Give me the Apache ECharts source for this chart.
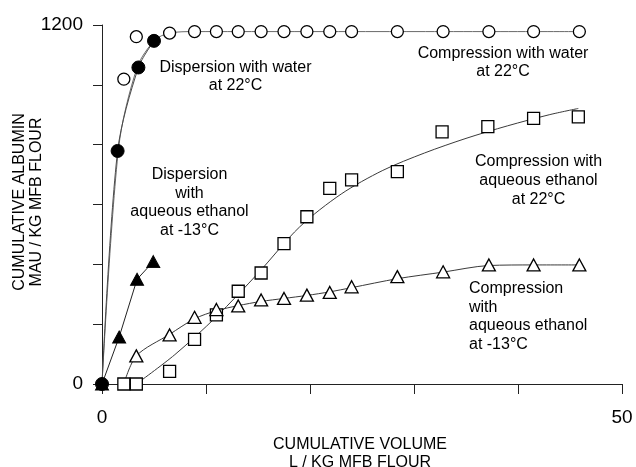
<!DOCTYPE html>
<html>
<head>
<meta charset="utf-8">
<script src="https://cdn.jsdelivr.net/npm/echarts@6/dist/echarts.min.js"></script>
<style>
  html, body { margin: 0; padding: 0; background: #fff; }
  #chart { width: 636px; height: 467px; }
</style>
</head>
<body>
<div id="chart"></div>
<script>
// Cumulative albumin (MAU / kg MFB flour) versus cumulative volume (L / kg MFB flour)

// Compression with water at 22°C (open circles)
const compWaterVol = [2.1, 3.3, 6.5, 8.9, 11.0, 13.1, 15.3, 17.5, 19.7, 21.9, 24.0, 28.4, 32.8, 37.2, 41.5, 45.9];
const compWater    = [1019, 1161, 1173, 1178, 1178, 1178, 1178, 1178, 1178, 1178, 1178, 1178, 1178, 1178, 1178, 1178];
const compWaterFitVol = [0, 1.6, 3.4, 5.1, 6.5, 8.9, 13.1, 24.0, 45.9];
const compWaterFit    = [0, 790, 1060, 1150, 1173, 1178, 1178, 1178, 1178];

// Dispersion with water at 22°C (filled circles)
const dispWaterVol = [0, 1.5, 3.5, 5.0];
const dispWater    = [0, 779, 1058, 1147];

// Dispersion with aqueous ethanol at -13°C (filled triangles)
const dispEthanolVol = [0, 1.65, 3.37, 4.93];
const dispEthanol    = [0, 157, 350, 409];

// Compression with aqueous ethanol at 22°C (open squares)
const compWarmVol = [2.1, 3.3, 6.5, 8.9, 11.0, 13.1, 15.3, 17.5, 19.7, 21.9, 24.0, 28.4, 32.7, 37.1, 41.5, 45.8];
const compWarm    = [0, 0, 42, 149, 231, 310, 371, 469, 559, 654, 682, 710, 843, 860, 888, 893];
const compWarmFitVol = [3.3, 7, 11, 15, 19, 23, 27, 31, 35, 39, 43, 45.8];
const compWarmFit    = [0, 98, 225, 370, 525, 635, 714, 772, 821, 863, 900, 921];

// Compression with aqueous ethanol at -13°C (open triangles)
const compColdVol = [3.3, 6.5, 8.9, 11.0, 13.1, 15.3, 17.5, 19.7, 21.9, 24.0, 28.4, 32.8, 37.2, 41.5, 45.9];
const compCold    = [94, 164, 223, 249, 261, 281, 286, 297, 306, 325, 359, 375, 398, 398, 398];
const compColdFitVol = [2.1, 3.3, 6.5, 8.9, 11.0, 13.1, 15.3, 17.5, 19.7, 21.9, 24.0, 28.4, 32.8, 37.2, 41.5, 45.9];
const compColdFit    = [0, 94, 166, 218, 245, 262, 276, 286, 296, 308, 322, 352, 374, 396, 398, 398];

// Axis ranges and the labelled ticks
const xRange = [0, 50];
const yRange = [0, 1200];
const xTickLabels = ['0', '50'];
const yTickLabels = ['0', '1200'];

const FONT = '"Liberation Sans", Arial, Helvetica, sans-serif';
const pairs = (xs, ys) => xs.map((x, i) => [x, ys[i]]);

const openMarker = { color: '#fff', borderColor: '#000', borderWidth: 1.3, opacity: 1 };
const filledMarker = { color: '#000', borderColor: '#000', borderWidth: 1, opacity: 1 };

function fitLine(name, xs, ys, smooth, color) {
  return {
    name, type: 'line', data: pairs(xs, ys), symbol: 'none',
    smooth: smooth,
    lineStyle: { color: color || '#3a3a3a', width: 1 }, z: 2, silent: true
  };
}
function markers(name, xs, ys, symbol, size, style) {
  return {
    name, type: 'scatter', data: pairs(xs, ys), symbol, symbolSize: size,
    itemStyle: style, z: 5, silent: true
  };
}

const chart = echarts.init(document.getElementById('chart'), null, { renderer: 'canvas' });

chart.setOption({
  backgroundColor: '#fff',
  animation: false,
  grid: { left: 102, right: 14, top: 25, bottom: 83 },
  xAxis: {
    type: 'value', min: xRange[0], max: xRange[1], interval: 10,
    axisLine: { show: true, lineStyle: { color: '#222', width: 1 } },
    axisTick: { show: true, inside: false, length: 10, lineStyle: { color: '#222', width: 1 } },
    splitLine: { show: false },
    axisLabel: {
      margin: 24, fontSize: 19, color: '#000', fontFamily: FONT,
      formatter: v => (v === xRange[0] ? xTickLabels[0] : v === xRange[1] ? xTickLabels[1] : '')
    }
  },
  yAxis: {
    type: 'value', min: yRange[0], max: yRange[1], interval: 200,
    axisLine: { show: true, lineStyle: { color: '#222', width: 1 } },
    axisTick: { show: true, inside: false, length: 9, lineStyle: { color: '#222', width: 1 } },
    splitLine: { show: false },
    axisLabel: {
      margin: 19, fontSize: 19, color: '#000', fontFamily: FONT,
      formatter: v => (v === yRange[0] ? yTickLabels[0] : v === yRange[1] ? yTickLabels[1] : '')
    }
  },
  series: [
    fitLine('Compression with water fit', compWaterFitVol, compWaterFit, 0.3, '#6a6a6a'),
    fitLine('Dispersion with water', dispWaterVol, dispWater, 0.3, '#4a4a4a'),
    fitLine('Dispersion with aqueous ethanol', dispEthanolVol, dispEthanol, false, '#222'),
    fitLine('Compression with aqueous ethanol 22 fit', compWarmFitVol, compWarmFit, 0.3),
    fitLine('Compression with aqueous ethanol -13 fit', compColdFitVol, compColdFit, 0.3),
    markers('Compression with water', compWaterVol, compWater, 'circle', 12, openMarker),
    markers('Compression with aqueous ethanol at 22°C', compWarmVol, compWarm, 'rect', 12, openMarker),
    markers('Compression with aqueous ethanol at -13°C', compColdVol, compCold, 'triangle', [13, 12], openMarker),
    markers('Dispersion with water at 22°C', dispWaterVol, dispWater, 'circle', 13, filledMarker),
    markers('Dispersion with aqueous ethanol at -13°C', dispEthanolVol, dispEthanol, 'triangle', [13, 12], filledMarker)
  ],
  graphic: [
    // axis titles
    {
      type: 'text', x: 28, y: 202, rotation: Math.PI / 2, silent: true,
      style: { text: 'CUMULATIVE ALBUMIN\nMAU / KG MFB FLOUR', font: '16px ' + FONT, fill: '#000',
               textAlign: 'center', textVerticalAlign: 'middle', lineHeight: 17 }
    },
    {
      type: 'text', x: 360, y: 453.5, silent: true,
      style: { text: 'CUMULATIVE VOLUME\nL / KG MFB FLOUR', font: '16px ' + FONT, fill: '#000',
               textAlign: 'center', textVerticalAlign: 'middle', lineHeight: 18 }
    },
    // curve annotations
    {
      type: 'text', x: 235.5, y: 77, silent: true,
      style: { text: 'Dispersion with water\nat 22°C', font: '16px ' + FONT, fill: '#000',
               textAlign: 'center', textVerticalAlign: 'middle', lineHeight: 18 }
    },
    {
      type: 'text', x: 503, y: 62.5, silent: true,
      style: { text: 'Compression with water\nat 22°C', font: '16px ' + FONT, fill: '#000',
               textAlign: 'center', textVerticalAlign: 'middle', lineHeight: 18.5 }
    },
    {
      type: 'text', x: 538.5, y: 181, silent: true,
      style: { text: 'Compression with\naqueous ethanol\nat 22°C', font: '16px ' + FONT, fill: '#000',
               textAlign: 'center', textVerticalAlign: 'middle', lineHeight: 19 }
    },
    {
      type: 'text', x: 469, y: 316.5, silent: true,
      style: { text: 'Compression\nwith\naqueous ethanol\nat -13°C', font: '16px ' + FONT, fill: '#000',
               textAlign: 'left', textVerticalAlign: 'middle', lineHeight: 18.7 }
    },
    {
      type: 'text', x: 189.5, y: 202.5, silent: true,
      style: { text: 'Dispersion\nwith\naqueous ethanol\nat -13°C', font: '16px ' + FONT, fill: '#000',
               textAlign: 'center', textVerticalAlign: 'middle', lineHeight: 18.7 }
    }
  ]
});
</script>
</body>
</html>
